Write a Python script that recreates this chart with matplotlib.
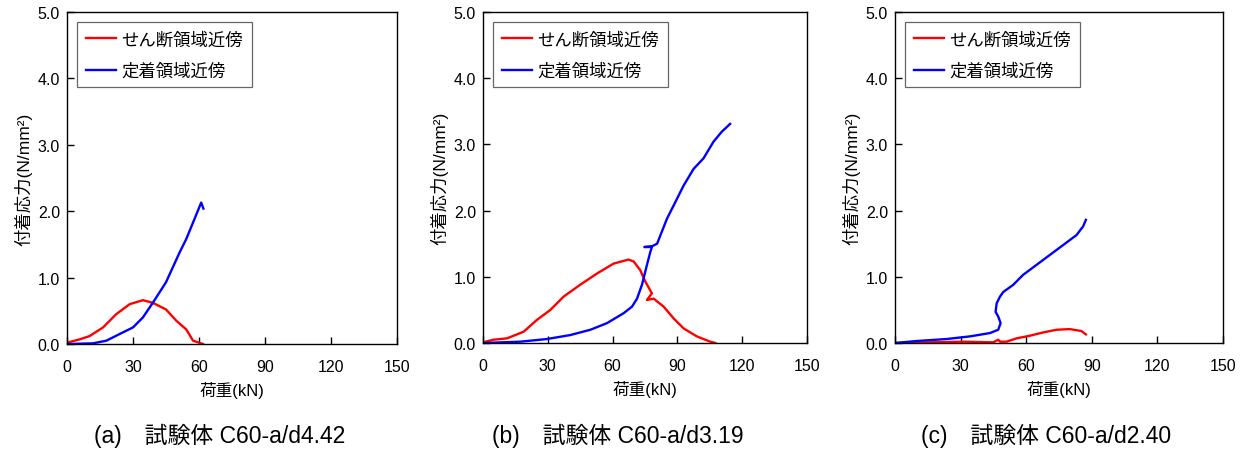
import matplotlib
matplotlib.use('Agg')
import matplotlib.pyplot as plt

plt.rcParams['font.family'] = ['Liberation Sans', 'Noto Sans CJK JP']

# (a) C60-a/d4.42
a_shear_x = [0, 5.8, 10.3, 16.4, 22.4, 28.5, 34.5, 39, 45, 49.7, 54.2, 57.3, 61.8]
a_shear_y = [0.02, 0.07, 0.12, 0.25, 0.45, 0.6, 0.66, 0.62, 0.52, 0.35, 0.22, 0.05, 0.0]
a_anch_x = [0, 11.8, 17.9, 23.9, 30, 34.5, 39, 45, 51.2, 54.2, 57.3, 61, 62]
a_anch_y = [0, 0.01, 0.05, 0.15, 0.25, 0.4, 0.62, 0.93, 1.38, 1.58, 1.83, 2.13, 2.04]

# (b) C60-a/d3.19
b_shear_x = [0, 4.9, 11.1, 18.8, 25, 31.2, 37.3, 45, 52.8, 60.5, 67.4, 69.8, 72.8, 75.1,
             78.2, 75.9, 79, 83.6, 88.3, 92.9, 99, 105.2, 107.6]
b_shear_y = [0.01, 0.05, 0.07, 0.17, 0.35, 0.5, 0.7, 0.88, 1.05, 1.2, 1.26, 1.23, 1.1, 0.93,
             0.75, 0.65, 0.67, 0.55, 0.37, 0.22, 0.1, 0.02, 0.0]
b_anch_x = [0, 17.3, 29.6, 40.4, 49.7, 57.4, 65.1, 69, 71.3, 73.6, 75.9, 77.5, 78.2, 74.7,
            78.2, 80.6, 85.2, 88.3, 92.9, 97.5, 102.1, 106.7, 110.5, 114.4]
b_anch_y = [0, 0.02, 0.06, 0.12, 0.2, 0.3, 0.45, 0.55, 0.67, 0.88, 1.18, 1.38, 1.45, 1.45,
            1.46, 1.5, 1.88, 2.08, 2.38, 2.63, 2.79, 3.04, 3.19, 3.31]

# (c) C60-a/d2.40
c_shear_x = [0, 31.2, 44.9, 47.2, 48, 51, 55.6, 61.7, 67.8, 73.9, 79.9, 85.3, 87.3]
c_shear_y = [0, 0.02, 0.01, 0.05, 0.02, 0.02, 0.07, 0.11, 0.16, 0.2, 0.21, 0.18, 0.13]
c_anch_x = [0, 9.9, 23.6, 34.3, 43.4, 47.2, 48.3, 47.2, 46, 46.5, 48, 49.5, 54.1, 58.6,
            64.7, 70.8, 76.9, 83, 86, 87.3]
c_anch_y = [0, 0.03, 0.06, 0.1, 0.15, 0.2, 0.3, 0.4, 0.47, 0.6, 0.7, 0.77, 0.88, 1.03,
            1.18, 1.33, 1.48, 1.63, 1.76, 1.86]

panels = [
    (a_shear_x, a_shear_y, a_anch_x, a_anch_y, '(a)\u3000試験体 C60-a/d4.42'),
    (b_shear_x, b_shear_y, b_anch_x, b_anch_y, '(b)\u3000試験体 C60-a/d3.19'),
    (c_shear_x, c_shear_y, c_anch_x, c_anch_y, '(c)\u3000試験体 C60-a/d2.40'),
]
axes_pos = [
    [67 / 1246, 107 / 452, 330 / 1246, 332 / 452],
    [483 / 1246, 108 / 452, 324 / 1246, 331 / 452],
    [895 / 1246, 108 / 452, 328 / 1246, 331 / 452],
]
title_x = [220 / 1246, 618 / 1246, 1046 / 1246]

fig = plt.figure(figsize=(12.46, 4.52), dpi=100)

for i, (sx, sy, ax_x, ax_y, title) in enumerate(panels):
    ax = fig.add_axes(axes_pos[i])
    ax.plot(sx, sy, color='#ff0000', lw=1.7, label='せん断領域近傍')
    ax.plot(ax_x, ax_y, color='#0000ff', lw=1.7, label='定着領域近傍')
    ax.set_xlim(0, 150)
    ax.set_ylim(0, 5)
    ax.set_xticks([0, 30, 60, 90, 120, 150])
    ax.set_yticks([0, 1, 2, 3, 4, 5])
    ax.set_yticklabels(['0.0', '1.0', '2.0', '3.0', '4.0', '5.0'])
    ax.tick_params(direction='in', length=5, width=1, labelsize=11.5, pad=5)
    ax.tick_params(axis='x', pad=11)
    for s in ax.spines.values():
        s.set_linewidth(1)
    ax.set_xlabel('荷重(kN)', fontsize=12, labelpad=5)
    ax.set_ylabel('付着応力(N/mm²)', fontsize=12.5, labelpad=4)
    leg = ax.legend(loc='upper left', fontsize=12.5, frameon=True, fancybox=False,
                    edgecolor='#404040', handlelength=1.75, handletextpad=0.3,
                    borderaxespad=0.6, borderpad=0.5, labelspacing=0.85)
    leg.get_frame().set_linewidth(0.9)
    fig.text(title_x[i], 0.035, title, ha='center', va='center', fontsize=16.5)

fig.savefig('out.png', dpi=100)
